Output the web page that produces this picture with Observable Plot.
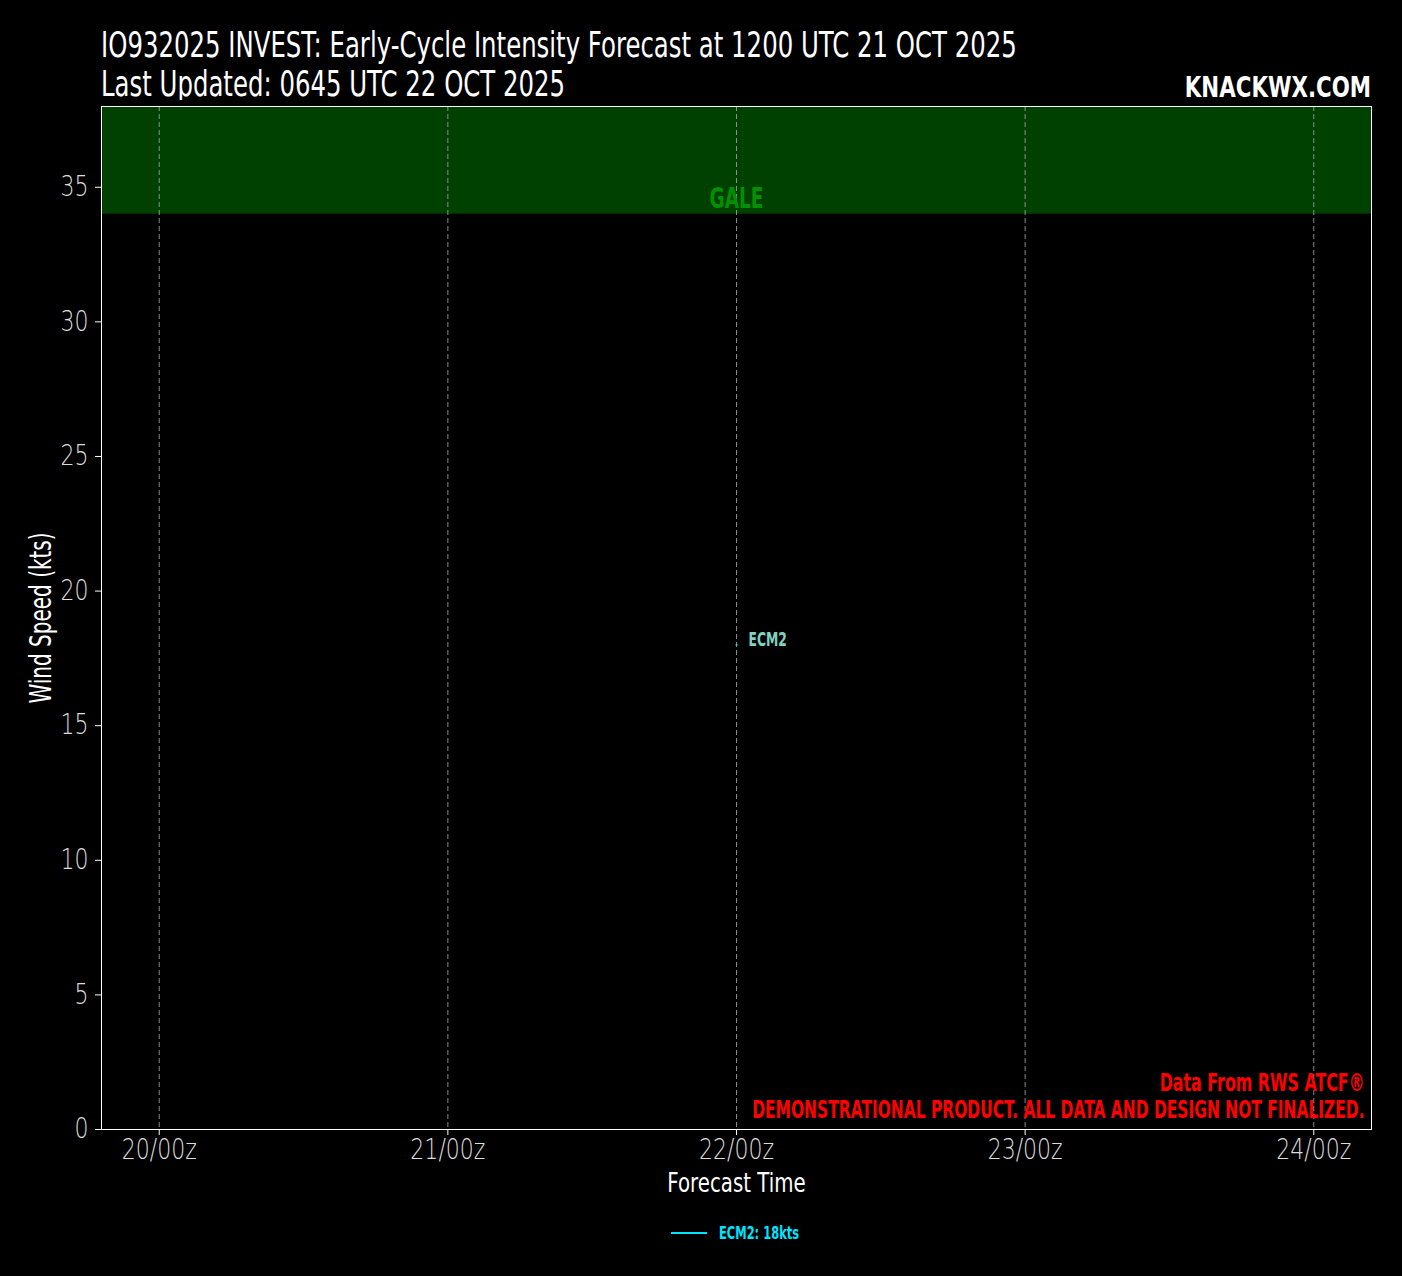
<!DOCTYPE html>
<html>
<head>
<meta charset="utf-8">
<script src="https://cdn.jsdelivr.net/npm/d3@7"></script>
<script src="https://cdn.jsdelivr.net/npm/@observablehq/plot@0.6"></script>
<style>
  html, body { margin: 0; padding: 0; background: #000; }
  body { width: 1402px; height: 1276px; position: relative; overflow: hidden;
         font-family: "DejaVu Sans", sans-serif; color: #fff; }
  .t { position: absolute; white-space: nowrap; line-height: normal; }
  #chart { position: absolute; left: 0; top: 100px; }
</style>
</head>
<body>
<div class="t" id="title1" style="left:101px; top:25px; font-size:35px; transform-origin:left center; transform:scaleX(0.697);">IO932025 INVEST: Early-Cycle Intensity Forecast at 1200 UTC 21 OCT 2025</div>
<div class="t" id="title2" style="left:101px; top:64px; font-size:35px; transform-origin:left center; transform:scaleX(0.697);">Last Updated: 0645 UTC 22 OCT 2025</div>
<div class="t" id="brand" style="right:31px; top:70px; font-size:29px; font-weight:bold; transform-origin:right center; transform:scaleX(0.736);">KNACKWX.COM</div>
<div id="chart"></div>
<div class="t" id="legline" style="left:671px; top:1232px; width:36px; height:2px; background:#00e5ff;"></div>
<div class="t" id="legtext" style="left:719px; top:1223px; font-size:17px; font-weight:bold; color:#00e5ff; transform-origin:left center; transform:scaleX(0.674);"></div>
<script>
// ---- data ----
const models = ["ECM2"];
const modelColors = ["#00e5ff"];
const labelColors = ["#7fd4c4"];
const forecastTimes = ["2025-10-22T00:00Z"];
const forecastWinds = [18];
const xTickTimes = ["2025-10-20T00:00Z","2025-10-21T00:00Z","2025-10-22T00:00Z","2025-10-23T00:00Z","2025-10-24T00:00Z"];
const yTicks = [0,5,10,15,20,25,30,35];
const xDomain = ["2025-10-19T19:12Z","2025-10-24T04:48Z"];
const yDomain = [0, 38];
const galeBand = [34, 38];
const watermark = ["Data From RWS ATCF\u00ae", "DEMONSTRATIONAL PRODUCT. ALL DATA AND DESIGN NOT FINALIZED."];
const xAxisLabel = "Forecast Time";
const yAxisLabel = "Wind Speed (kts)";
const bandLabel = "GALE";

const pts = forecastTimes.map((t, i) => ({model: models[0], time: new Date(t), wind: forecastWinds[i]}));
const last = pts[pts.length - 1];
document.getElementById("legtext").textContent = `${models[0]}: ${last.wind}kts`;

const fontFam = '"DejaVu Sans", sans-serif';
const xTicks = xTickTimes.map(d => new Date(d));

const plot = Plot.plot({
  width: 1402,
  height: 1110,
  marginLeft: 101,
  marginRight: 31,
  marginTop: 6,
  marginBottom: 81,
  style: {background: "#000", color: "#ddd", fontFamily: fontFam, overflow: "visible"},
  x: {type: "utc", domain: xDomain.map(d => new Date(d)), ticks: xTicks, tickFormat: d3.utcFormat("%d/%Hz"), label: null},
  y: {domain: yDomain, ticks: yTicks, label: null},
  marks: [
    Plot.rectY([{y1: galeBand[0], y2: galeBand[1]}], {x1: () => new Date(xDomain[0]), x2: () => new Date(xDomain[1]), y1: "y1", y2: "y2", fill: "#004000"}),
    Plot.ruleX(xTicks, {stroke: "#aaa", strokeWidth: 1, strokeDasharray: "5,3", strokeOpacity: 0.8}),
    Plot.axisX({ticks: xTicks, tickFormat: d3.utcFormat("%d/%Hz"), fontSize: 27.5, fontWeight: 300, tickSize: 6, tickPadding: 4, stroke: "#fff", fill: "#ddd", label: null}),
    Plot.axisY({ticks: yTicks, fontSize: 27.5, fontWeight: 300, tickSize: 6, tickPadding: 7, stroke: "#fff", fill: "#ddd", label: null}),
    Plot.text([bandLabel], {x: () => new Date(xTickTimes[2]), y: galeBand[0], text: d => d, fill: "#009000", fontSize: 29, fontWeight: "bold", lineAnchor: "bottom", dy: -6}),
    Plot.line(pts, {x: "time", y: "wind", stroke: modelColors[0], strokeWidth: 2}),
    Plot.text([last], {x: "time", y: "wind", text: "model", fill: labelColors[0], fontSize: 19, fontWeight: "bold", textAnchor: "start", dx: 12, dy: -5}),
    Plot.text([watermark[0]], {frameAnchor: "bottom-right", text: d => d, fill: "#ff0000", fontSize: 24, fontWeight: "bold", textAnchor: "end", lineAnchor: "bottom", dx: -7, dy: -39}),
    Plot.text([watermark[1]], {frameAnchor: "bottom-right", text: d => d, fill: "#ff0000", fontSize: 24, fontWeight: "bold", textAnchor: "end", lineAnchor: "bottom", dx: -7, dy: -12}),
    Plot.frame({stroke: "#fff", strokeWidth: 1}),
    Plot.text([xAxisLabel], {frameAnchor: "bottom", text: d => d, fill: "#fff", fontSize: 26, dy: 62}),
    Plot.text([yAxisLabel], {frameAnchor: "left", text: d => d, fill: "#fff", fontSize: 30, rotate: -90, textAnchor: "middle", dx: -60})
  ]
});
document.getElementById("chart").appendChild(plot);

function squeezeEl(t, r) {
  const L = t.getComputedTextLength();
  t.setAttribute("textLength", (L * r).toFixed(1));
  t.setAttribute("lengthAdjust", "spacingAndGlyphs");
}
plot.querySelectorAll('g[aria-label="x-axis tick label"] text, g[aria-label="y-axis tick label"] text').forEach(t => squeezeEl(t, 0.80));
const ratios = new Map([
  [bandLabel, 0.64],
  [models[0], 0.65],
  [watermark[0], 0.66],
  [watermark[1], 0.644],
  [xAxisLabel, 0.76],
  [yAxisLabel, 0.667]
]);
plot.querySelectorAll("text").forEach(t => {
  const r = ratios.get(t.textContent);
  if (r) squeezeEl(t, r);
});
</script>
</body>
</html>
